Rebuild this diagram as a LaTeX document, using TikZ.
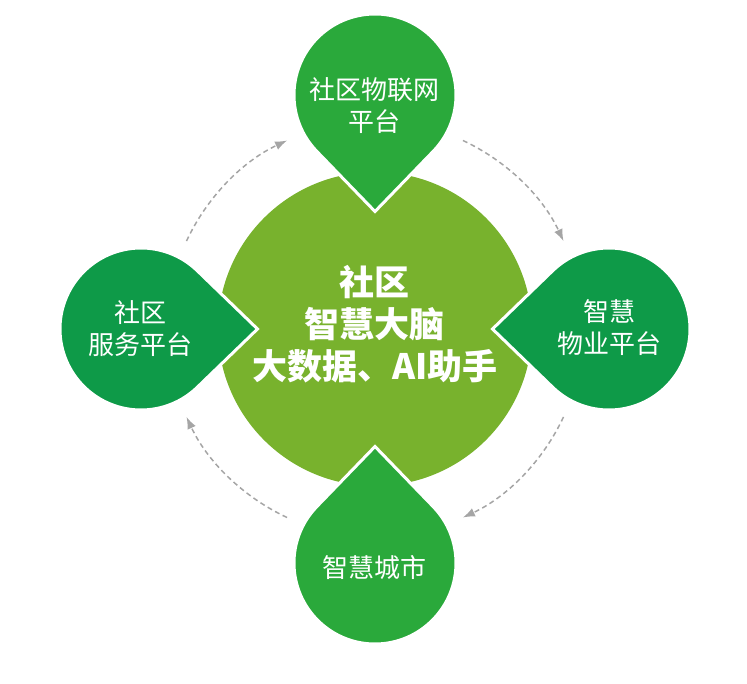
\documentclass[tikz,border=0pt]{standalone}
\usepackage{fontspec}
\newfontfamily\cjk{Noto Sans CJK SC}
\usetikzlibrary{arrows.meta}
\definecolor{hubgreen}{RGB}{120,178,45}
\definecolor{pingreen}{RGB}{42,169,59}
\definecolor{sidegreen}{RGB}{14,154,72}
\definecolor{flowgray}{RGB}{165,165,165}
\tikzset{
    drop/.pic={\path[pic actions] (0,-116.5) -- (-44:81) arc[start angle=-44, end angle=224, radius=81] -- cycle;},
    droplabel/.style={text=white, align=center, font=\cjk\fontsize{26}{32}\selectfont},
    flow/.style={flowgray, line width=1.5pt, dash pattern=on 5pt off 3.5pt, -{Latex[length=12pt,width=9pt]}},
}
\begin{document}
\begin{tikzpicture}[x=1pt, y=1pt]
    \useasboundingbox (-375,-354) rectangle (372,329);
    \node[circle, fill=hubgreen, minimum size=314pt, inner sep=0pt] (hub) at (0,0) {};

    \pic[fill=pingreen, draw=white, line width=3pt] at (0,234) {drop};
    \pic[rotate=-90, fill=sidegreen, draw=white, line width=3pt] at (234,0) {drop};
    \pic[rotate=180, fill=pingreen, draw=white, line width=3pt] at (0,-234) {drop};
    \pic[rotate=90, fill=sidegreen, draw=white, line width=3pt] at (-234,0) {drop};

    \node[text=white, align=center, font=\cjk\bfseries\fontsize{35}{42}\selectfont] (brain) at (0,5) {社区\\智慧大脑\\大数据、AI助手};
    \node[droplabel] (iot) at (0,223) {社区物联网\\平台};
    \node[droplabel] (estate) at (234,1) {智慧\\物业平台};
    \node[droplabel] (city) at (0,-239) {智慧城市};
    \node[droplabel] (service) at (-234,0) {社区\\服务平台};

    \draw[flow] ([shift={(155:208)}]hub.center) arc[start angle=155, end angle=115, radius=208];
    \draw[flow] ([shift={(65:208)}]hub.center) arc[start angle=65, end angle=25, radius=208];
    \draw[flow] ([shift={(-25:208)}]hub.center) arc[start angle=-25, end angle=-65, radius=208];
    \draw[flow] ([shift={(-115:208)}]hub.center) arc[start angle=-115, end angle=-155, radius=208];
\end{tikzpicture}
\end{document}
